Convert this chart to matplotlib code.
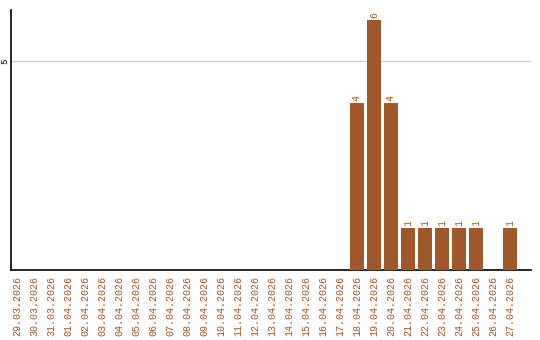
import matplotlib.pyplot as plt
import pandas as pd

# dates and counts
dates = pd.date_range('2026-03-29', '2026-04-27').strftime('%d.%m.%Y').tolist()
counts = [0] * 20 + [4, 6, 4, 1, 1, 1, 1, 1, 0, 1]
y_ticks = [5]

bar_color = '#a0582a'
mono = 'Liberation Mono'

fig = plt.figure(figsize=(5.4, 3.4), dpi=100)
ax = fig.add_axes([11 / 540, 70 / 340, 520 / 540, 260 / 340])

x = list(range(len(dates)))
ax.bar(x, counts, width=0.82, color=bar_color, zorder=3)

# value labels on top of non-zero bars
for xi, v in zip(x, counts):
    if v > 0:
        ax.text(xi, v + 0.05, str(v), rotation=90, ha='center', va='bottom',
                color=bar_color, fontsize=7, family=mono)

# plot area has a little room on the left and more on the right
ax.set_xlim(-0.35, len(dates) + 0.24)
ax.set_ylim(0, 6.23)
ax.set_xticks(x)
ax.set_xticklabels(dates, rotation=90, color=bar_color, fontsize=7.2, family=mono)
ax.set_yticks(y_ticks)
ax.set_yticklabels([str(t) for t in y_ticks], rotation=90, va='center', fontsize=6.5, family=mono)
ax.tick_params(axis='x', length=0, pad=4)
ax.tick_params(axis='y', length=0, pad=1)
ax.yaxis.grid(True, color='#cccccc', linewidth=1, zorder=0)

for s in ['top', 'right']:
    ax.spines[s].set_visible(False)
ax.spines['left'].set_linewidth(1.2)
ax.spines['bottom'].set_linewidth(1.2)

fig.savefig('out.png', dpi=100)
